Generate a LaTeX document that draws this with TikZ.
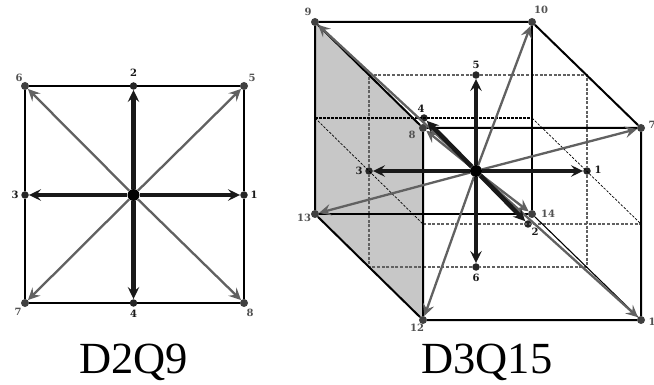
\documentclass[tikz,border=0pt]{standalone}
\usepackage{fontspec}
\setmainfont{Liberation Serif}
\newfontfamily\latticeLabelFont{DejaVu Serif}
\usetikzlibrary{arrows.meta}
\begin{document}
\begin{tikzpicture}[
    x=1pt, y=-1pt,
    >={Stealth[length=12pt, width=11.5pt, inset=4.5pt]},
    latticeEdge/.style={black, line width=2pt},
    latticeThin/.style={black, line width=1.1pt},
    latticeDash/.style={black!62, line width=1.2pt, dash pattern=on 3pt off 1.6pt},
    latticeDashThin/.style={black, line width=0.7pt, dash pattern=on 2.5pt off 1.5pt},
    latticeAxis/.style={->, black!90, line width=4.5pt},
    latticeDiag/.style={->, black!62, line width=2.3pt},
    latticeDot/.style={circle, fill=black!85, inner sep=0pt, minimum size=7.5pt},
    latticeDotGray/.style={circle, fill=black!75, inner sep=0pt, minimum size=8pt},
    latticeCentre/.style={circle, fill=black, inner sep=0pt, minimum size=12pt},
    latticeLabel/.style={font=\latticeLabelFont\bfseries\fontsize{10}{10}\selectfont, black!90, inner sep=0pt},
    latticeLabelGray/.style={latticeLabel, black!68},
    latticeTitle/.style={font=\fontsize{44.5}{45}\selectfont, inner sep=0pt}
]
    \useasboundingbox (0,0) rectangle (654,385);

    % shaded side of the cube
    \fill[black!22] (315,22) -- (423,128) -- (423,320) -- (315,214) -- cycle;

    % D2Q9 points
    \node[latticeCentre] (a0) at (133.5,195) {};
    \foreach \i/\px/\py/\lx/\ly in {1/244/195/254/195, 2/133.5/86/133.5/73, 3/25/195/15/195, 4/133.5/303/133.5/314}
        {\node[latticeDot] (a\i) at (\px,\py) {};
         \node[latticeLabel] (la\i) at (\lx,\ly) {\i};}
    \foreach \i/\px/\py/\lx/\ly in {5/244/86/252/78, 6/25/86/19/78, 7/25/303/18/312, 8/244/303/250/313}
        {\node[latticeDotGray] (a\i) at (\px,\py) {};
         \node[latticeLabelGray] (la\i) at (\lx,\ly) {\i};}

    % D3Q15 points
    \node[latticeCentre] (b0) at (476,171) {};
    \foreach \i/\px/\py/\lx/\ly in {1/587/171/598/170, 2/528/224/535/232, 3/369/171/359/171, 4/424/118/421/109, 5/476/75/476/65, 6/476/267/476/278}
        {\node[latticeDot] (b\i) at (\px,\py) {};
         \node[latticeLabel] (lb\i) at (\lx,\ly) {\i};}
    \foreach \i/\px/\py/\lx/\ly/\t in {7/641/128/652/125/7, 8/423/128/412/135/8, 9/315/22/308/12/9, 10/532/22/541/10/10, 11/641/320/652/322/1, 12/423/320/417/328/12, 13/315/214/304/218/13, 14/532/214/548/214/14}
        {\node[latticeDotGray] (b\i) at (\px,\py) {};
         \node[latticeLabelGray] (lb\i) at (\lx,\ly) {\t};}

    % inner box and middle plane
    \coordinate (p1) at (369,75);
    \coordinate (p2) at (587,75);
    \coordinate (p3) at (587,267);
    \coordinate (p4) at (369,267);
    \coordinate (m1) at (315,118);
    \coordinate (m2) at (532,118);
    \coordinate (m3) at (641,224);
    \coordinate (m4) at (423,224);
    \draw[latticeDash] (p1) -- (b5) -- (p2) -- (b1) -- (p3) -- (b6) -- (p4) -- (b3) -- (p1);
    \draw[latticeDashThin, line width=1.1pt] (m1) -- (m2);
    \draw[latticeDash] (m4) -- (m3);
    \draw[latticeDashThin] (m2) -- (m3);
    \draw[latticeDashThin] (m1) -- (m4);

    % D2Q9 frame
    \draw[latticeEdge] (a6) -- (a2) -- (a5) -- (a1) -- (a8) -- (a4) -- (a7) -- (a3) -- (a6);

    % D3Q15 frame
    \draw[latticeThin] (b10) -- (b14) -- (b13);
    \draw[latticeThin] (b14) -- (b11);
    \draw[latticeEdge] (b13) -- (b9) -- (b10) -- (b7);
    \draw[latticeEdge] (b9) -- (b8) -- (b7) -- (b11) -- (b12) -- (b8);
    \draw[latticeEdge] (b12) -- (b13);

    % diagonals
    \foreach \i in {5,6,7,8}
        \draw[latticeDiag] (a0) -- (a\i);
    \foreach \i in {7,8,...,14}
        \draw[latticeDiag] (b0) -- (b\i);

    % axes
    \foreach \i in {1,2,3,4}
        \draw[latticeAxis] (a0) -- (a\i);
    \foreach \i in {1,2,...,6}
        \draw[latticeAxis] (b0) -- (b\i);

    \node[latticeTitle] (titleA) at (133.5,362) {D2Q9};
    \node[latticeTitle] (titleB) at (487,362) {D3Q15};
\end{tikzpicture}
\end{document}
